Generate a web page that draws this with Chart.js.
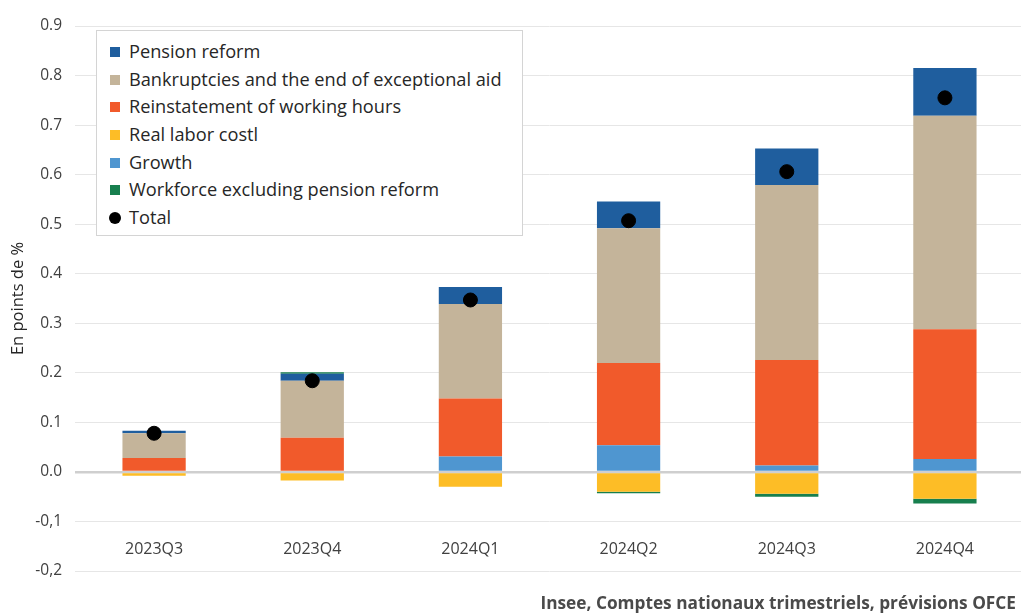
<!DOCTYPE html>
<html>
<head>
<meta charset="utf-8">
<script src="https://cdn.jsdelivr.net/npm/chart.js@4"></script>
<style>
  html, body { margin: 0; padding: 0; background: #fff; overflow: hidden; }
  #wrap { position: relative; width: 1032px; height: 613px; }
  #legend {
    position: absolute; left: 96px; top: 30px; width: 427px; height: 206px;
    border: 1px solid #D4D4D4; background: #fff; box-sizing: border-box;
    padding-top: 7px; font-family: 'Open Sans', sans-serif; font-size: 18.2px; color: #262626;
  }
  .row { position: relative; height: 27.7px; line-height: 27.7px; padding-left: 32px; white-space: nowrap; }
  .sw { position: absolute; left: 13px; top: 9px; width: 10px; height: 10px; }
  .dot { position: absolute; left: 12px; top: 8px; width: 12px; height: 12px; border-radius: 50%; background: #000; }
  #source { position: absolute; right: 16px; top: 592px; font-family: 'Open Sans', sans-serif; font-weight: bold;
    font-size: 17.25px; color: #4A4A4A; white-space: nowrap; line-height: 22px; }
</style>
</head>
<body>
<div id="wrap">
  <canvas id="c"></canvas>
  <div id="legend"></div>
  <div id="source">Insee, Comptes nationaux trimestriels, prévisions OFCE</div>
</div>
<script>
const categories = ['2023Q3', '2023Q4', '2024Q1', '2024Q2', '2024Q3', '2024Q4'];
const growth        = [0, 0, 0.031, 0.054, 0.013, 0.026];
const reinstatement = [0.028, 0.069, 0.117, 0.166, 0.213, 0.262];
const bankruptcies  = [0.050, 0.115, 0.191, 0.272, 0.353, 0.431];
const pension       = [0.005, 0.014, 0.034, 0.054, 0.074, 0.096];
const realLaborCost = [-0.008, -0.0175, -0.030, -0.040, -0.044, -0.054];
const workforce     = [0, 0.003, 0, -0.003, -0.006, -0.010];
const total         = [0.078, 0.184, 0.347, 0.507, 0.606, 0.755];
const yTickLabels = ['-0,2', '-0,1', '0.0', '0.1', '0.2', '0.3', '0.4', '0.5', '0.6', '0.7', '0.8', '0.9'];
const legendOrder = ['Pension reform', 'Bankruptcies and the end of exceptional aid', 'Reinstatement of working hours', 'Real labor costl', 'Growth', 'Workforce excluding pension reform', 'Total'];

const bar = (label, data, color) => ({
  type: 'bar', label, data, backgroundColor: color, borderWidth: 0,
  stack: 'a', categoryPercentage: 1, barPercentage: 0.4
});

const datasets = [
  bar('Growth', growth, '#4F96D0'),
  bar('Reinstatement of working hours', reinstatement, '#F15A2B'),
  bar('Bankruptcies and the end of exceptional aid', bankruptcies, '#C4B49A'),
  bar('Pension reform', pension, '#1F5E9E'),
  bar('Real labor costl', realLaborCost, '#FDBD26'),
  bar('Workforce excluding pension reform', workforce, '#177F4E'),
  { type: 'line', label: 'Total', data: total, stack: 'total', order: -1, showLine: false,
    pointRadius: 7, pointHoverRadius: 7, pointBackgroundColor: '#000', pointBorderColor: '#000', borderColor: '#000', backgroundColor: '#000' }
];

const chart = new Chart(document.getElementById('c'), {
  data: { labels: categories, datasets },
  options: {
    responsive: true, maintainAspectRatio: false, animation: false,
    layout: { padding: { left: 0, right: 1, top: 26, bottom: 42 } },
    plugins: {
      legend: { display: false },
      tooltip: { enabled: false }
    },
    scales: {
      x: {
        stacked: true,
        position: { y: -0.1 },
        grid: { display: false, drawTicks: false },
        border: { display: false },
        ticks: { color: '#404040', font: { family: 'Open Sans', size: 16 }, padding: 18 },
        afterFit: s => { s.height = 0; }
      },
      y: {
        stacked: true, min: -0.2, max: 0.9,
        ticks: { stepSize: 0.1, color: '#404040', font: { family: 'Open Sans', size: 15.5 }, padding: 13,
                 callback: (v, i) => yTickLabels[i] },
        grid: {
          drawTicks: false,
          color: c => Math.abs(c.tick.value) < 1e-9 ? '#CFCFCF' : '#E6E6E6',
          lineWidth: c => Math.abs(c.tick.value) < 1e-9 ? 2.5 : 1
        },
        border: { display: false },
        title: { display: true, text: 'En points de %', color: '#262626', font: { family: 'Open Sans', size: 16.5 }, padding: { top: 8, bottom: 0 } },
        afterFit: s => { s.width = 75; }
      }
    }
  }
});

const lg = document.getElementById('legend');
legendOrder.forEach(name => {
  const ds = chart.data.datasets.find(d => d.label === name);
  const row = document.createElement('div');
  row.className = 'row';
  const mk = document.createElement('span');
  if (ds.type === 'line') { mk.className = 'dot'; }
  else { mk.className = 'sw'; mk.style.background = ds.backgroundColor; }
  row.appendChild(mk);
  row.appendChild(document.createTextNode(ds.label));
  lg.appendChild(row);
});
</script>
</body>
</html>
